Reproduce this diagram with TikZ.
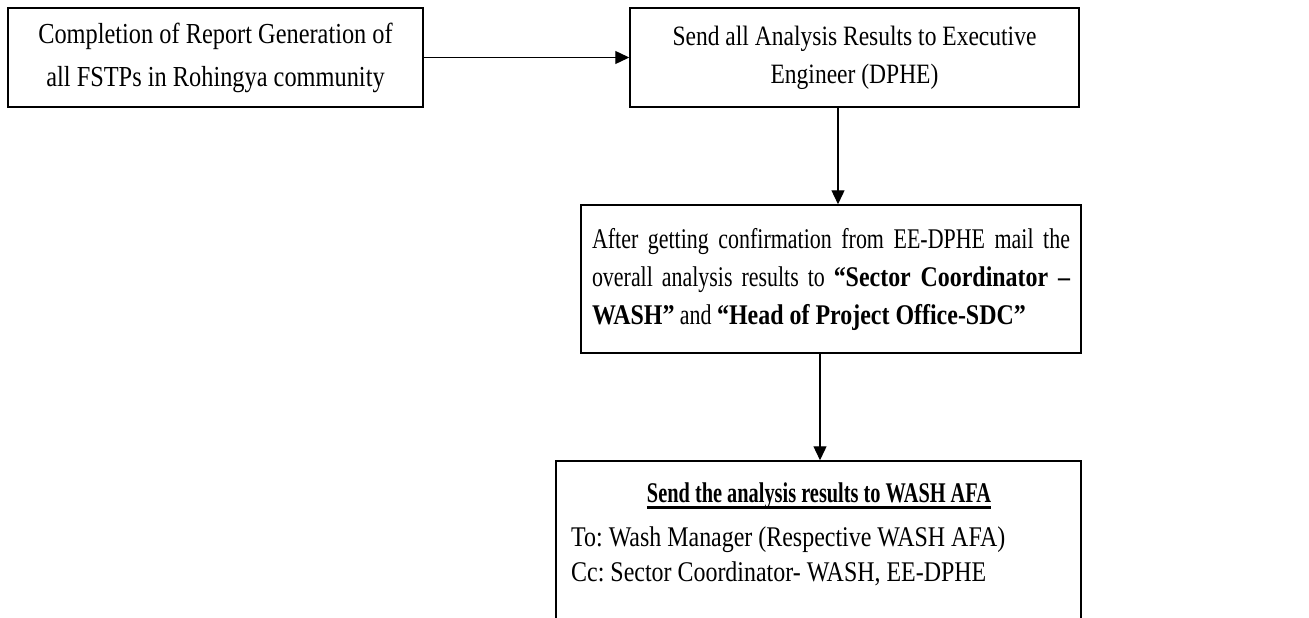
\documentclass[tikz,border=0pt]{standalone}
\usepackage{fontspec}
\setmainfont{Liberation Serif}[FakeStretch=0.84]
\newfontfamily\bthree{Liberation Serif}[FakeStretch=0.77, BoldFeatures={FakeStretch=0.84}]
\frenchspacing
\usetikzlibrary{arrows.meta}
\begin{document}
\begin{tikzpicture}[x=1pt,y=-1pt,
  box/.style={draw,line width=1.5pt,inner sep=0pt,align=center},
  txt/.style={inner sep=0pt,font=\fontsize{28.5}{36}\selectfont},
  arr/.style={-{Triangle[length=14pt,width=13pt]},line width=1.3pt}]
\useasboundingbox (0,0) rectangle (1309,618);
\clip (0,0) rectangle (1309,618);
\node[box, minimum width=415pt, minimum height=99pt,
      font=\fontsize{29}{43}\selectfont\frenchspacing] (b1) at (215.5,57.5)
  {Completion of Report Generation of\\all FSTPs in Rohingya community};
\node[box, minimum width=449pt, minimum height=99pt,
      font=\fontsize{28}{38}\selectfont\frenchspacing] (b2) at (854.5,57.5)
  {Send all Analysis Results to Executive\\Engineer (DPHE)};
\node[box, minimum width=500pt, minimum height=148pt, text width=478pt,
      align=justify, font=\bthree\fontsize{28.5}{38}\selectfont\frenchspacing] (b3) at (831,279)
  {After getting confirmation from EE-DPHE mail the\linebreak overall analysis results to \textbf{“Sector Coordinator –\linebreak WASH”} and \textbf{“Head of Project Office-SDC”}};
\node[box, minimum width=525pt, minimum height=199pt] (b4) at (818.5,560.5) {};
\node[txt, anchor=base, font=\fontsize{28.5}{36}\selectfont\bfseries] (t4) at (819,502)
  {\scalebox{0.85}[1]{Send the analysis results to WASH AFA}};
\draw[line width=2.6pt] ([yshift=-5.5pt]t4.base west) -- ([yshift=-5.5pt]t4.base east);
\node[txt, anchor=base west, font=\fontsize{28.5}{36}\selectfont\frenchspacing] (to) at (571,546) {To: Wash Manager (Respective WASH AFA)};
\node[txt, anchor=base west, font=\fontsize{28.5}{36}\selectfont\frenchspacing] (cc) at (571,581) {Cc: Sector Coordinator- WASH, EE-DPHE};
\draw[arr] (b1.east) -- (b2.west);
\draw[arr] ([xshift=-16.5pt]b2.south) -- ([xshift=-16.5pt]b2.south |- b3.north);
\draw[arr] ([xshift=-11pt]b3.south) -- ([xshift=-11pt]b3.south |- b4.north);
\end{tikzpicture}
\end{document}
